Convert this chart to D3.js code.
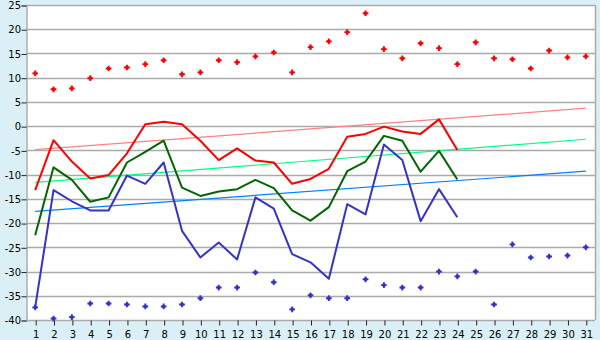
<!DOCTYPE html>
<html><head><meta charset="utf-8">
<script src="https://cdn.jsdelivr.net/npm/d3@7/dist/d3.min.js"></script>
<style>html,body{margin:0;padding:0;background:#daf0f6;}svg{display:block;}</style>
</head><body><svg id="c" width="600" height="340"></svg>
<script>
const days = d3.range(1, 32);
const yTicks = [-40, -35, -30, -25, -20, -15, -10, -5, 0, 5, 10, 15, 20, 25];
const redDots = [10.9,7.6,7.8,9.9,11.9,12.1,12.8,13.6,10.7,11.1,13.6,13.2,14.4,15.2,11.1,16.3,17.5,19.4,23.3,15.9,14.0,17.1,16.1,12.8,17.3,14.0,13.8,11.9,15.6,14.2,14.4];
const blueDots = [-37.4,-39.7,-39.4,-36.6,-36.6,-36.8,-37.2,-37.2,-36.8,-35.5,-33.3,-33.3,-30.2,-32.2,-37.8,-34.9,-35.5,-35.5,-31.6,-32.8,-33.3,-33.3,-30.0,-31.0,-30.0,-36.8,-24.4,-27.1,-26.9,-26.7,-25.0];
const redLine = [-13.2,-2.9,-7.3,-10.8,-10.1,-5.6,0.4,0.9,0.4,-3.0,-7.0,-4.6,-7.1,-7.5,-11.9,-10.9,-8.8,-2.2,-1.6,-0.1,-1.1,-1.6,1.4,-4.9];
const greenLine = [-22.5,-8.5,-11.1,-15.6,-14.7,-7.5,-5.3,-3.0,-12.7,-14.4,-13.5,-13.0,-11.1,-12.8,-17.4,-19.5,-16.7,-9.3,-7.3,-2.0,-3.0,-9.4,-5.1,-11.0];
const blueLine = [-37.4,-13.2,-15.5,-17.4,-17.4,-10.2,-11.9,-7.5,-21.6,-27.1,-24.0,-27.5,-14.7,-17.0,-26.4,-28.1,-31.5,-16.1,-18.2,-3.8,-7.0,-19.6,-13.0,-18.8];
// trend lines: value at day 1 and day 31
const redTrend = [-4.85, 3.7];
const greenTrend = [-11.6, -2.7];
const blueTrend = [-17.6, -9.3];

const svg = d3.select("#c");
const L = 26, R = 595, T = 5, B = 320;
const x = d3.scalePoint().domain(days).range([L, R]).padding(0.5);
const y = d3.scaleLinear().domain([-40, 25]).range([B, T]);

svg.append("rect").attr("x", L).attr("y", T).attr("width", R - L).attr("height", B - T).attr("fill", "#fff");

// grid
svg.append("g").selectAll("line").data(yTicks).join("line")
  .attr("x1", L).attr("x2", R).attr("y1", d => Math.round(y(d)) + 0.5).attr("y2", d => Math.round(y(d)) + 0.5)
  .attr("stroke", "#aaaaaa").attr("stroke-width", 1.3);
svg.append("line").attr("x1", R + 0.5).attr("x2", R + 0.5).attr("y1", T).attr("y2", B)
  .attr("stroke", "#aaaaaa").attr("stroke-width", 1.5);

// axes
const font = "DejaVu Sans, Verdana, sans-serif";
const ya = svg.append("g").attr("transform", `translate(${L + 0.5},0.5)`)
  .call(d3.axisLeft(y).tickValues(yTicks).tickSize(5).tickPadding(0.5).tickFormat(d => String(d)));
const xa = svg.append("g").attr("transform", `translate(0.5,${B + 0.5})`)
  .call(d3.axisBottom(x).tickValues(days).tickSize(5).tickPadding(5));
[ya, xa].forEach(a => {
  a.select(".domain").attr("stroke", "#aaaaaa").attr("stroke-width", 1.5);
  a.selectAll(".tick line").attr("stroke", "#222");
  a.selectAll("text").attr("fill", "#000").attr("font-family", font).attr("font-size", 10);
});
xa.select(".domain").remove();

// trend lines
const trendLine = d3.line().x(d => x(d[0])).y(d => y(d[1]));
[[redTrend, "#ff8080"], [greenTrend, "#00ff80"], [blueTrend, "#0080ff"]].forEach(([t, c]) => {
  svg.append("path").attr("d", trendLine([[1, t[0]], [31, t[1]]]))
    .attr("fill", "none").attr("stroke", c).attr("stroke-width", 1.2);
});

// series lines
const line = d3.line().x((d, i) => x(days[i])).y(d => y(d));
[[redLine, "#ff0000"], [greenLine, "#006600"], [blueLine, "#3333cc"]].forEach(([s, c]) => {
  svg.append("path").attr("d", line(s)).attr("fill", "none").attr("stroke", c)
    .attr("stroke-width", 2).attr("stroke-linejoin", "round");
});

// dots
const sym = d3.symbol().type(d3.symbolCross).size(18);
[[redDots, "#ff0000"], [blueDots, "#3333cc"]].forEach(([s, c]) => {
  svg.append("g").selectAll("path").data(s).join("path")
    .attr("transform", (d, i) => `translate(${x(days[i])},${y(d)})`)
    .attr("d", sym).attr("fill", c);
  svg.append("g").selectAll("rect").data(s).join("rect")
    .attr("x", (d, i) => x(days[i]) - 1.5).attr("y", d => y(d) - 1.5)
    .attr("width", 3).attr("height", 3).attr("fill", c);
});
</script></body></html>
